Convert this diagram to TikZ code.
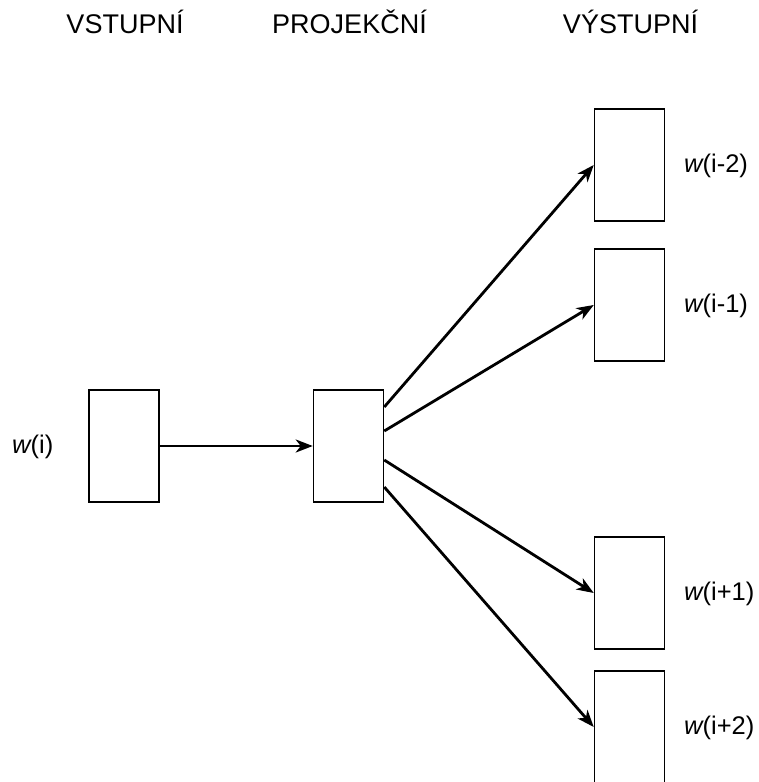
\documentclass[tikz,border=0pt]{standalone}
\usepackage{fontspec}
\setmainfont{Liberation Sans}
\usetikzlibrary{arrows.meta}
\begin{document}
\begin{tikzpicture}[x=1pt,y=-1pt,
  box/.style={draw,line width=1.5pt,minimum width=70pt,minimum height=112pt,inner sep=0pt,fill=white},
  conn/.style={line width=2.8pt,-{Stealth[length=17pt,width=13pt,inset=5pt]}},
  lbl/.style={font=\fontsize{25.5}{30}\selectfont,anchor=west,inner sep=0pt},
  head/.style={font=\fontsize{27}{31}\selectfont,anchor=base,inner sep=0pt}]
\useasboundingbox (0,0) rectangle (759,782);
\fill[white] (0,0) rectangle (759,782);
\node[box] (in) at (124,446) {};
\node[box] (pr) at (348.5,446) {};
\node[box] (o1) at (629.5,165) {};
\node[box] (o2) at (629.5,305) {};
\node[box] (o3) at (629.5,593) {};
\node[box] (o4) at (629.5,727) {};
\node[head] (h1) at (125,33) {VSTUPNÍ};
\node[head] (h2) at (349.5,33) {PROJEKČNÍ};
\node[head] (h3) at (630.5,33) {VÝSTUPNÍ};
\node[lbl] (lin) at (12,447) {{\itshape w}(i)};
\node[lbl] (l1) at (684,166) {{\itshape w}(i-2)};
\node[lbl] (l2) at (684,306) {{\itshape w}(i-1)};
\node[lbl] (l3) at (684,594) {{\itshape w}(i+1)};
\node[lbl] (l4) at (684,728) {{\itshape w}(i+2)};
\coordinate (s1) at ([yshift=39pt]pr.east);
\coordinate (s2) at ([yshift=15pt]pr.east);
\coordinate (s3) at ([yshift=-14pt]pr.east);
\coordinate (s4) at ([yshift=-41pt]pr.east);
\draw[conn] (in.east) -- (pr.west);
\draw[conn] (s1) -- (o1.west);
\draw[conn] (s2) -- (o2.west);
\draw[conn] (s3) -- (o3.west);
\draw[conn] (s4) -- (o4.west);
\end{tikzpicture}
\end{document}
